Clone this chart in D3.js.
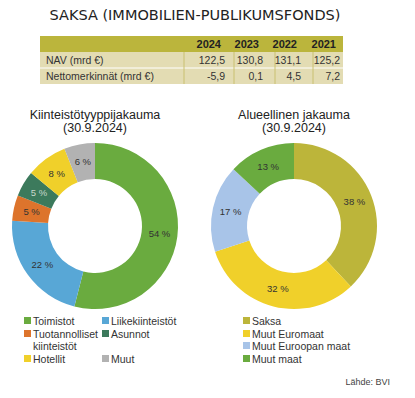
<!DOCTYPE html>
<html>
<head>
<meta charset="utf-8">
<script src="https://cdn.jsdelivr.net/npm/d3@7"></script>
<style>
  body { margin: 0; background: #fff; }
  svg { display: block; font-family: "Liberation Sans", Arial, sans-serif; }
</style>
</head>
<body>
<svg id="chart" width="415" height="398"></svg>
<script>
// Table data
const years = ["2024", "2023", "2022", "2021"];
const rowLabels = ["NAV (mrd €)", "Nettomerkinnät (mrd €)"];
const navValues = ["122,5", "130,8", "131,1", "125,2"];
const netValues = ["-5,9", "0,1", "4,5", "7,2"];

// Property type split
const typeNames = ["Toimistot", "Liikekiinteistöt", "Tuotannolliset kiinteistöt", "Asunnot", "Hotellit", "Muut"];
const typeValues = [54, 22, 5, 5, 8, 6];
const typeColors = ["#6aab3f", "#58a7d6", "#dd742c", "#3c7a5c", "#f0d02a", "#b2b2b2"];

// Regional split
const regionNames = ["Saksa", "Muut Euromaat", "Muut Euroopan maat", "Muut maat"];
const regionValues = [38, 32, 17, 13];
const regionColors = ["#bcb53a", "#f0d02a", "#a8c4e8", "#6aab3f"];

const svg = d3.select("#chart");

// Title
svg.append("text")
    .attr("x", 195).attr("y", 20)
    .attr("text-anchor", "middle")
    .attr("font-family", "DejaVu Sans, sans-serif")
    .attr("font-size", 14.5)
    .attr("fill", "#222")
    .attr("textLength", 291)
    .text("SAKSA (IMMOBILIEN-PUBLIKUMSFONDS)");

// Table
const tableX = 40, tableW = 303;
const colRight = d3.scaleOrdinal().domain(years).range([225, 263, 301, 340]);
const colSep = [184, 234, 275, 313];
const rowH = 16;

svg.append("rect").attr("x", tableX).attr("y", 36).attr("width", tableW).attr("height", 16).attr("fill", "#bbb53c");
svg.append("rect").attr("x", tableX).attr("y", 52).attr("width", tableW).attr("height", 32).attr("fill", "#e3dcb3");
svg.append("line").attr("x1", tableX).attr("x2", tableX + tableW).attr("y1", 68).attr("y2", 68)
    .attr("stroke", "#fff").attr("stroke-width", 1);
colSep.forEach(x => {
    svg.append("line").attr("x1", x).attr("x2", x).attr("y1", 52).attr("y2", 84)
        .attr("stroke", "#c9c070").attr("stroke-width", 1);
});

svg.selectAll(".yr").data(years).enter().append("text")
    .attr("x", d => colRight(d) - 4).attr("y", 48)
    .attr("text-anchor", "end").attr("font-size", 11).attr("font-weight", "bold").attr("fill", "#222")
    .text(d => d);

[navValues, netValues].forEach((vals, i) => {
    const y = 64 + i * rowH;
    svg.append("text").attr("x", 46).attr("y", y).attr("font-size", 10.5).attr("fill", "#333").text(rowLabels[i]);
    svg.selectAll(".v" + i).data(vals).enter().append("text")
        .attr("x", (d, j) => colRight(years[j])).attr("y", y)
        .attr("text-anchor", "end").attr("font-size", 10.5).attr("fill", "#333")
        .text(d => d);
});

// Donuts
const outerR = 83, innerR = 47;
const pie = d3.pie().sort(null).value(d => d);
const arc = d3.arc().innerRadius(innerR).outerRadius(outerR);

function donut(cx, cy, values, colors, title, lightLabel) {
    const g = svg.append("g").attr("transform", `translate(${cx},${cy})`);
    const arcs = pie(values);
    g.selectAll("path").data(arcs).enter().append("path")
        .attr("d", arc).attr("fill", (d, i) => colors[i]);
    g.selectAll("text.lbl").data(arcs).enter().append("text")
        .attr("class", "lbl")
        .attr("transform", d => `translate(${arc.centroid(d)})`)
        .attr("text-anchor", "middle").attr("dy", "0.35em")
        .attr("font-size", 9.5)
        .attr("fill", (d, i) => i === lightLabel ? "#c8d8cc" : "#333")
        .text(d => d.data + " %");
    svg.append("text").attr("x", cx).attr("y", 119).attr("text-anchor", "middle")
        .attr("font-size", 12.5).attr("fill", "#222").text(title);
    svg.append("text").attr("x", cx).attr("y", 132).attr("text-anchor", "middle")
        .attr("font-size", 12.5).attr("fill", "#222").text("(30.9.2024)");
}

donut(95, 226, typeValues, typeColors, "Kiinteistötyyppijakauma", 3);
donut(294, 226, regionValues, regionColors, "Alueellinen jakauma", -1);

// Legends
function legendItem(x, y, color, lines) {
    svg.append("rect").attr("x", x).attr("y", y - 4).attr("width", 7).attr("height", 7).attr("fill", color);
    lines.forEach((t, k) => {
        svg.append("text").attr("x", x + 9).attr("y", y + 3.5 + k * 12.5)
            .attr("font-size", 10.5).attr("fill", "#333").text(t);
    });
}
const rowY = [321, 334, 346, 359];
legendItem(24, rowY[0], typeColors[0], [typeNames[0]]);
legendItem(102, rowY[0], typeColors[1], [typeNames[1]]);
legendItem(24, rowY[1], typeColors[2], ["Tuotannolliset", "kiinteistöt"]);
legendItem(102, rowY[1], typeColors[3], [typeNames[3]]);
legendItem(24, rowY[3], typeColors[4], [typeNames[4]]);
legendItem(102, rowY[3], typeColors[5], [typeNames[5]]);

regionNames.forEach((n, i) => legendItem(243, rowY[i], regionColors[i], [n]));

svg.append("text").attr("x", 390).attr("y", 385).attr("text-anchor", "end")
    .attr("font-size", 9).attr("fill", "#444").text("Lähde: BVI");
</script>
</body>
</html>
